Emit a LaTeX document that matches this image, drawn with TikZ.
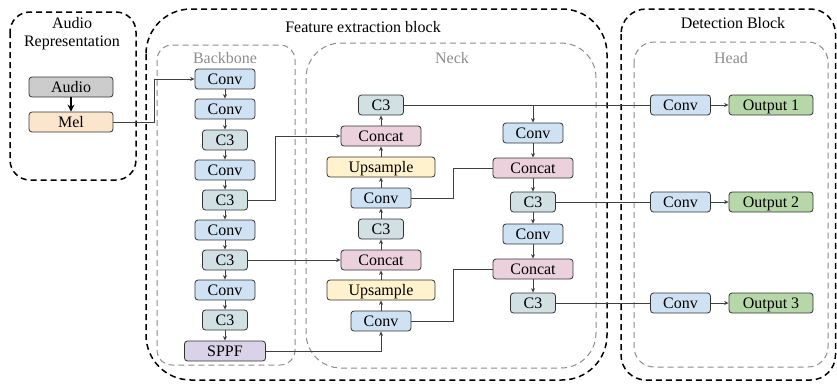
\documentclass[tikz,border=0pt]{standalone}
\usepackage{fontspec}
\setmainfont{Liberation Serif}
\usetikzlibrary{arrows.meta}

\definecolor{convc}{HTML}{CFE2F3}
\definecolor{cthree}{HTML}{D0E0E3}
\definecolor{concatc}{HTML}{EAD1DC}
\definecolor{upc}{HTML}{FFF2CC}
\definecolor{sppfc}{HTML}{D9D2E9}
\definecolor{outc}{HTML}{B6D7A8}
\definecolor{audioc}{HTML}{CCCCCC}
\definecolor{melc}{HTML}{FCE5CD}
\definecolor{linec}{HTML}{404040}
\definecolor{groupc}{HTML}{8C8C8C}

\begin{document}
\begin{tikzpicture}[x=1pt,y=-1pt,
  every node/.style={font=\fontsize{16}{18}\selectfont},
  blk/.style={draw=black!80, line width=0.8pt, rounded corners=3pt,
    minimum height=20pt, inner sep=0pt, text depth=0pt},
  convb/.style={blk, fill=convc, minimum width=60pt},
  cthreeb/.style={blk, fill=cthree, minimum width=45pt},
  concatb/.style={blk, fill=concatc, minimum width=80pt},
  upb/.style={blk, fill=upc, minimum width=108pt},
  sppfb/.style={blk, fill=sppfc, minimum width=81pt},
  outb/.style={blk, fill=outc, minimum width=84pt},
  audiob/.style={blk, fill=audioc, minimum width=84pt},
  melb/.style={blk, fill=melc, minimum width=84pt},
  outer/.style={draw=black, line width=1.5pt, dash pattern=on 6pt off 4pt},
  group/.style={draw=groupc, line width=1pt, dash pattern=on 6pt off 4pt},
  grouplabel/.style={text=groupc},
  link/.style={draw=linec, line width=0.9pt},
  arr/.style={link, -{Stealth[length=4.5pt,width=4pt]}}
]
\useasboundingbox (0,0) rectangle (837,383);

% enclosing blocks
\draw[outer, rounded corners=20pt] (10,12) rectangle (136,180);
\draw[outer, rounded corners=45pt] (146,9) rectangle (607,380);
\draw[outer, rounded corners=25pt] (621,9) rectangle (835.5,380);
\draw[group, rounded corners=15pt] (157,45) rectangle (295,365);
\draw[group, rounded corners=35pt] (306,43) rectangle (596,368);
\draw[group, rounded corners=20pt] (634,42) rectangle (828,367);

% block titles
\node (tAudio) at (72,23) {Audio};
\node (tRep) at (72,43) {Representation};
\node (tFeat) at (363,27) {Feature extraction block};
\node (tDet) at (733,23) {Detection Block};
\node[grouplabel] (tBack) at (225,58) {Backbone};
\node[grouplabel] (tNeck) at (452,58) {Neck};
\node[grouplabel] (tHead) at (731,58) {Head};

% audio representation
\node[audiob] (audio) at (71,87) {Audio};
\node[melb] (mel) at (71,122) {Mel};

% backbone
\node[convb]   (b1) at (225,79)  {Conv};
\node[convb]   (b2) at (225,109) {Conv};
\node[cthreeb] (b3) at (225,140) {C3};
\node[convb]   (b4) at (225,170) {Conv};
\node[cthreeb] (b5) at (225,200) {C3};
\node[convb]   (b6) at (225,230) {Conv};
\node[cthreeb] (b7) at (225,260) {C3};
\node[convb]   (b8) at (225,290) {Conv};
\node[cthreeb] (b9) at (225,320) {C3};
\node[sppfb]   (sppf) at (225,351) {SPPF};

% neck, upward path
\node[cthreeb] (n1) at (381,105) {C3};
\node[concatb] (n2) at (381,136) {Concat};
\node[upb]     (n3) at (381,167) {Upsample};
\node[convb]   (n4) at (381,198) {Conv};
\node[cthreeb] (n5) at (381,229) {C3};
\node[concatb] (n6) at (381,260) {Concat};
\node[upb]     (n7) at (381,290) {Upsample};
\node[convb]   (n8) at (381,321) {Conv};

% neck, downward path
\node[convb]   (r1) at (533,133) {Conv};
\node[concatb] (r2) at (533,168) {Concat};
\node[cthreeb] (r3) at (533,202) {C3};
\node[convb]   (r4) at (533,234) {Conv};
\node[concatb] (r5) at (533,269) {Concat};
\node[cthreeb] (r6) at (533,303) {C3};

% head
\node[convb] (h1) at (680.5,105) {Conv};
\node[convb] (h2) at (680.5,202) {Conv};
\node[convb] (h3) at (680.5,303) {Conv};
\node[outb]  (o1) at (771,105) {Output 1};
\node[outb]  (o2) at (771,202) {Output 2};
\node[outb]  (o3) at (771,303) {Output 3};

% audio to backbone
\draw[line width=1.5pt, -{Stealth[length=7pt,width=7pt]}] (audio) -- (mel);
\draw[arr] (mel.east) -- ++(41,0) |- (b1.west);

% backbone chain
\foreach \a/\b in {b1/b2,b2/b3,b3/b4,b4/b5,b5/b6,b6/b7,b7/b8,b8/b9,b9/sppf}
  \draw[arr] (\a) -- (\b);

% backbone to neck
\draw[arr] (b5.east) -- ++(27.5,0) |- (n2.west);
\draw[arr] (b7.east) -- (n6.west);
\draw[arr] (sppf.east) -| (n8.south);

% neck upward chain
\foreach \a/\b in {n8/n7,n7/n6,n6/n5,n5/n4,n4/n3,n3/n2,n2/n1}
  \draw[arr] (\a) -- (\b);

% neck downward chain
\foreach \a/\b in {r1/r2,r2/r3,r3/r4,r4/r5,r5/r6}
  \draw[arr] (\a) -- (\b);

% lateral links inside the neck
\draw[link] (n4.east) -- ++(42,0) |- (r2.west);
\draw[link] (n8.east) -- ++(42,0) |- (r5.west);
\draw[arr] (r1.north |- n1.east) -- (r1.north);

% neck to head
\draw[link] (n1.east) -- (h1.west);
\draw[link] (r3.east) -- (h2.west);
\draw[link] (r6.east) -- (h3.west);
\draw[arr] (h1) -- (o1);
\draw[arr] (h2) -- (o2);
\draw[arr] (h3) -- (o3);
\end{tikzpicture}
\end{document}
